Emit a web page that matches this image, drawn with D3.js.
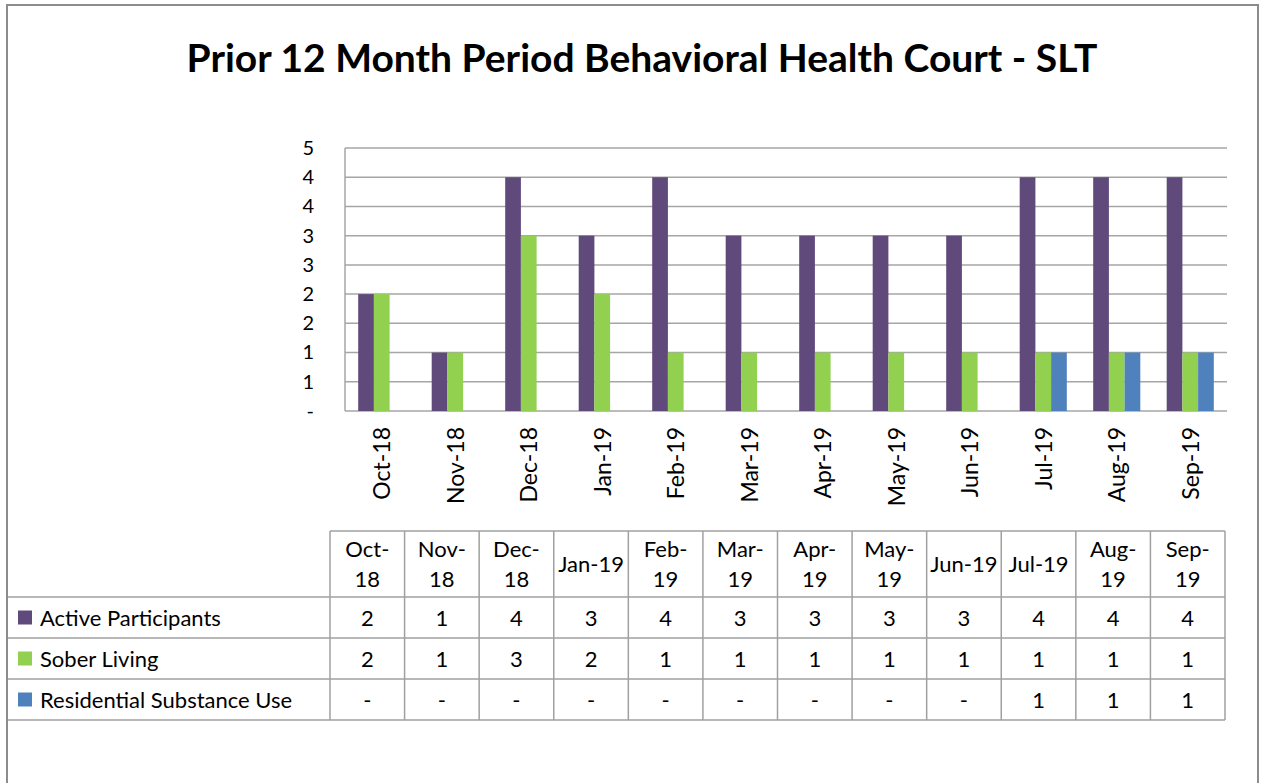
<!DOCTYPE html>
<html>
<head>
<meta charset="utf-8">
<script src="https://cdn.jsdelivr.net/npm/d3@7"></script>
<style>
  body { margin: 0; background: #fff; }
  text { font-family: Lato, "Open Sans", sans-serif; fill: #000; }
</style>
</head>
<body>
<div id="chart"></div>
<script>
// data
const months = ['Oct-18', 'Nov-18', 'Dec-18', 'Jan-19', 'Feb-19', 'Mar-19', 'Apr-19', 'May-19', 'Jun-19', 'Jul-19', 'Aug-19', 'Sep-19']
// table header labels as they wrap in the reference
const headerLines = [['Oct-', '18'], ['Nov-', '18'], ['Dec-', '18'], ['Jan-19'], ['Feb-', '19'], ['Mar-', '19'],
  ['Apr-', '19'], ['May-', '19'], ['Jun-19'], ['Jul-19'], ['Aug-', '19'], ['Sep-', '19']]
const seriesNames = ['Active Participants', 'Sober Living', 'Residential Substance Use']
const activeParticipants = [2, 1, 4, 3, 4, 3, 3, 3, 3, 4, 4, 4]
const soberLiving = [2, 1, 3, 2, 1, 1, 1, 1, 1, 1, 1, 1]
const residentialUse = [0, 0, 0, 0, 0, 0, 0, 0, 0, 1, 1, 1]
const yTicks = [0, 0.5, 1, 1.5, 2, 2.5, 3, 3.5, 4, 4.5]
const colors = ['#604a7b', '#92d050', '#4f81bd']

const allSeries = [activeParticipants, soberLiving, residentialUse]

const W = 1266
const H = 783

const svg = d3.select('#chart')
  .append('svg')
  .attr('width', W)
  .attr('height', H)

// outer chart border
svg.append('rect')
  .attr('x', 7).attr('y', 5)
  .attr('width', 1251).attr('height', 800)
  .attr('fill', 'none')
  .attr('stroke', '#8c8c8c')
  .attr('stroke-width', 2)

// title
svg.append('text')
  .attr('x', 642)
  .attr('y', 72)
  .attr('text-anchor', 'middle')
  .style('font-weight', 'bold')
  .style('font-size', '39px')
  .text('Prior 12 Month Period Behavioral Health Court - SLT')

// plot area
const plot = { left: 345, right: 1227, top: 148, bottom: 411 }

const x = d3.scaleBand()
  .domain(months)
  .range([plot.left, plot.right])

const x1 = d3.scaleBand()
  .domain(d3.range(3))
  .range([0, x.bandwidth()])
  .paddingInner(0)
  .paddingOuter(0.84)

const y = d3.scaleLinear()
  .domain([0, 4.5])
  .range([plot.bottom, plot.top])

// gridlines
svg.append('g')
  .selectAll('line')
  .data(yTicks)
  .enter()
  .append('line')
  .attr('x1', plot.left)
  .attr('x2', plot.right)
  .attr('y1', function (d) { return y(d) })
  .attr('y2', function (d) { return y(d) })
  .attr('stroke', '#a6a6a6')
  .attr('stroke-width', 1.5)

svg.append('line')
  .attr('x1', plot.left).attr('x2', plot.left)
  .attr('y1', plot.top).attr('y2', plot.bottom)
  .attr('stroke', '#a6a6a6')
  .attr('stroke-width', 1.5)

// y axis
const yAxis = svg.append('g')
  .attr('transform', 'translate(' + (plot.left - 31) + ',0)')
  .call(d3.axisLeft(y)
    .tickValues(yTicks)
    .tickSize(0)
    .tickPadding(0)
    .tickFormat(function (d) { return d === 0 ? '-' : String(Math.round(d)) }))
yAxis.select('.domain').remove()
yAxis.selectAll('text')
  .style('font-size', '20px')
  .style('font-family', 'Lato, "Open Sans", sans-serif')
  .attr('fill', '#000')

// bars
months.forEach(function (m, i) {
  const g = svg.append('g')
    .attr('transform', 'translate(' + x(m) + ',0)')
  g.selectAll('rect')
    .data(allSeries.map(function (s, k) { return { k: k, v: s[i] } }).filter(function (d) { return d.v > 0 }))
    .enter()
    .append('rect')
    .attr('x', function (d) { return x1(d.k) })
    .attr('width', x1.bandwidth())
    .attr('y', function (d) { return y(d.v) })
    .attr('height', function (d) { return plot.bottom - y(d.v) })
    .attr('fill', function (d) { return colors[d.k] })
})

// x axis labels (rotated)
const xAxis = svg.append('g')
  .attr('transform', 'translate(0,' + (plot.bottom + 16) + ')')
  .call(d3.axisBottom(x).tickSize(0).tickPadding(0))
xAxis.select('.domain').remove()
xAxis.selectAll('text')
  .attr('transform', 'rotate(-90)')
  .attr('text-anchor', 'end')
  .attr('dy', '0.36em')
  .attr('x', 0)
  .attr('y', 0)
  .style('font-size', '23px')
  .style('font-family', 'Lato, "Open Sans", sans-serif')
  .attr('fill', '#000')

// data table
const table = { left: 330, right: 1225, frameLeft: 8, rows: [531, 597, 638, 679, 720] }
const tx = d3.scaleBand()
  .domain(months)
  .range([table.left, table.right])

const grid = svg.append('g')
  .attr('stroke', '#a0a0a0')
  .attr('stroke-width', 1.5)

grid.append('line')
  .attr('x1', table.left).attr('x2', table.right)
  .attr('y1', table.rows[0]).attr('y2', table.rows[0])
table.rows.slice(1).forEach(function (r) {
  grid.append('line')
    .attr('x1', table.frameLeft).attr('x2', table.right)
    .attr('y1', r).attr('y2', r)
})
months.concat(['end']).forEach(function (m, i) {
  const xx = i < months.length ? tx(m) : table.right
  grid.append('line')
    .attr('x1', xx).attr('x2', xx)
    .attr('y1', table.rows[0]).attr('y2', table.rows[4])
})

// header cells
const fs = 22
months.forEach(function (m, i) {
  const cx = tx(m) + tx.bandwidth() / 2
  const cy = (table.rows[0] + table.rows[1]) / 2
  const lines = headerLines[i]
  const t = svg.append('text')
    .attr('text-anchor', 'middle')
    .style('font-size', fs + 'px')
  if (lines.length > 1) {
    t.append('tspan').attr('x', cx).attr('y', cy - 7).text(lines[0])
    t.append('tspan').attr('x', cx).attr('y', cy + 23).text(lines[1])
  } else {
    t.attr('x', cx).attr('y', cy + 8).text(lines[0])
  }
})

// series rows
seriesNames.forEach(function (name, k) {
  const top = table.rows[k + 1]
  const bottom = table.rows[k + 2]
  const cy = (top + bottom) / 2
  svg.append('rect')
    .attr('x', 18).attr('y', cy - 7)
    .attr('width', 14).attr('height', 14)
    .attr('fill', colors[k])
  svg.append('text')
    .attr('x', 40)
    .attr('y', cy + 8)
    .style('font-size', fs + 'px')
    .text(name)
  svg.append('g')
    .selectAll('text')
    .data(allSeries[k])
    .enter()
    .append('text')
    .attr('x', function (d, i) { return tx(months[i]) + tx.bandwidth() / 2 })
    .attr('y', cy + 8)
    .attr('text-anchor', 'middle')
    .style('font-size', fs + 'px')
    .text(function (d) { return d === 0 ? '-' : d })
})
</script>
</body>
</html>
